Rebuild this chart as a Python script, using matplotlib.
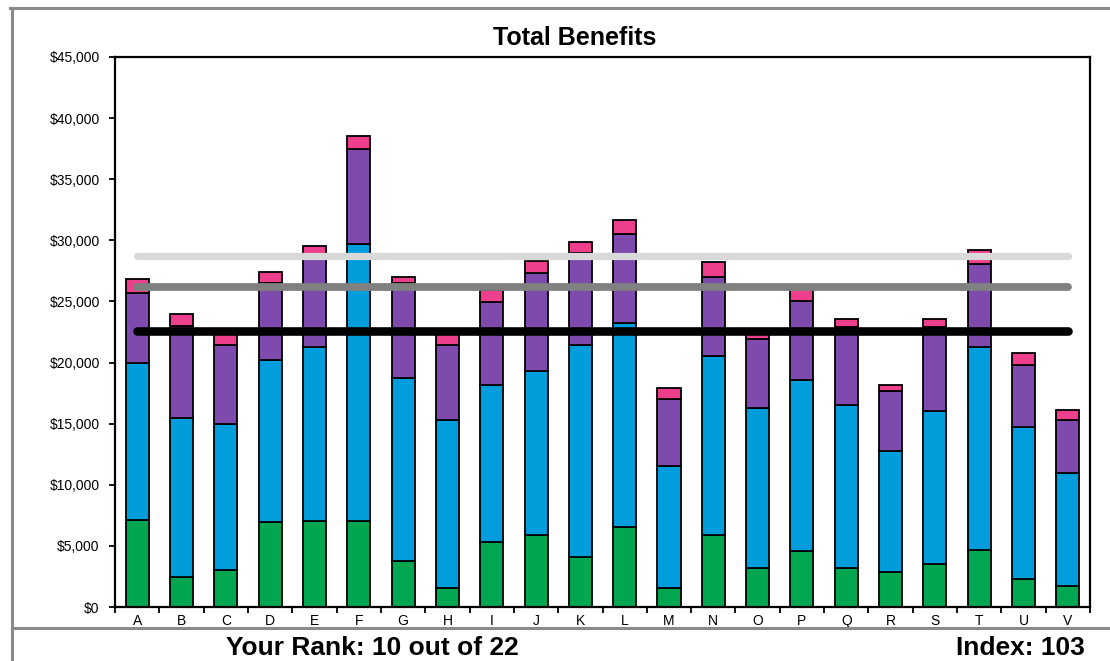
import matplotlib
matplotlib.use("Agg")
import matplotlib.pyplot as plt
from matplotlib.lines import Line2D
from matplotlib.ticker import FuncFormatter, FixedLocator
import numpy as np

plt.rcParams["font.family"] = ["Liberation Sans", "DejaVu Sans"]

# Companies on the x axis
categories = list("ABCDEFGHIJKLMNOPQRSTUV")

# Benefit components per company (stacked bottom to top), in dollars
retirement = [7100, 2450, 3050, 6950, 7050, 7050, 3750, 1550, 5300, 5900, 4100,
              6550, 1550, 5900, 3200, 4550, 3200, 2900, 3500, 4700, 2300, 1700]
health = [12900, 13000, 11950, 13300, 14250, 22650, 15000, 13750, 12850, 13450, 17300,
          16650, 10000, 14650, 13050, 14050, 13300, 9850, 12550, 16600, 12400, 9250]
insurance = [5700, 7550, 6450, 6300, 7250, 7800, 7750, 6150, 6800, 8000, 7600,
             7300, 5450, 6450, 5700, 6450, 6400, 4950, 6850, 6800, 5100, 4350]
other = [1150, 1000, 900, 900, 1000, 1000, 500, 850, 1000, 950, 850,
         1150, 900, 1200, 400, 1000, 650, 500, 650, 1150, 950, 800]

# Reference levels drawn across the chart
percentile_75 = 28750
average_level = 26200
your_level = 22600

rank_text = "Your Rank: 10 out of 22"
index_text = "Index: 103"

seg_colors = ["#00A650", "#009DDC", "#7F4AAD", "#EE3F8C"]

W, H = 1110, 661
fig = plt.figure(figsize=(W / 100, H / 100), dpi=100)
fig.patch.set_facecolor("white")

ax = fig.add_axes([115 / W, 1 - 607 / H, (1090 - 115) / W, (607 - 57) / H])

x = np.arange(len(categories))
bottom = np.zeros(len(categories))
for vals, col in zip([retirement, health, insurance, other], seg_colors):
    vals = np.array(vals, dtype=float)
    ax.bar(x, vals, bottom=bottom, width=0.52, color=col,
           edgecolor="black", linewidth=1.3, zorder=2)
    bottom += vals

for level, col, lw in [(percentile_75, "#D9D9D9", 5.2),
                       (average_level, "#808080", 5.6),
                       (your_level, "black", 6.2)]:
    ax.plot(x, np.full(len(x), level), color=col, lw=lw,
            solid_capstyle="round", zorder=3)

ax.set_xlim(-0.5, len(categories) - 0.5)
ax.set_ylim(0, 45000)
ax.yaxis.set_major_locator(FixedLocator(np.arange(0, 45001, 5000)))
ax.yaxis.set_major_formatter(FuncFormatter(lambda v, p: "${:,.0f}".format(v)))
ax.tick_params(axis="y", direction="out", length=4, width=1.3, pad=7,
               labelsize=10, colors="black")

ax.set_xticks(x)
ax.set_xticklabels(categories)
ax.tick_params(axis="x", which="major", length=0, pad=5, labelsize=10)
ax.set_xticks(np.arange(-0.5, len(categories), 1.0), minor=True)
ax.tick_params(axis="x", which="minor", direction="out", length=4, width=1.3)

for s in ax.spines.values():
    s.set_linewidth(1.6)
    s.set_color("black")

fig.text(575 / W, 1 - 38 / H, "Total Benefits", ha="center", va="center",
         fontsize=18, fontweight="bold")

# Outer report frame and footer rule
frame_col = "#8A8A8A"
fig.add_artist(Line2D([10 / W, 1], [1 - 7.5 / H, 1 - 7.5 / H], color=frame_col,
                      lw=2.2, transform=fig.transFigure))
fig.add_artist(Line2D([11.7 / W, 11.7 / W], [1 - 7.5 / H, 0], color=frame_col,
                      lw=2.2, transform=fig.transFigure))
fig.add_artist(Line2D([11.7 / W, 1], [1 - 628 / H, 1 - 628 / H], color=frame_col,
                      lw=2.2, transform=fig.transFigure))

fig.text(372 / W, 1 - 655 / H, rank_text, ha="center", va="baseline",
         fontsize=19, fontweight="bold")
fig.text(1085 / W, 1 - 655 / H, index_text, ha="right", va="baseline",
         fontsize=19, fontweight="bold")

fig.savefig("out.png", dpi=100, facecolor="white")
